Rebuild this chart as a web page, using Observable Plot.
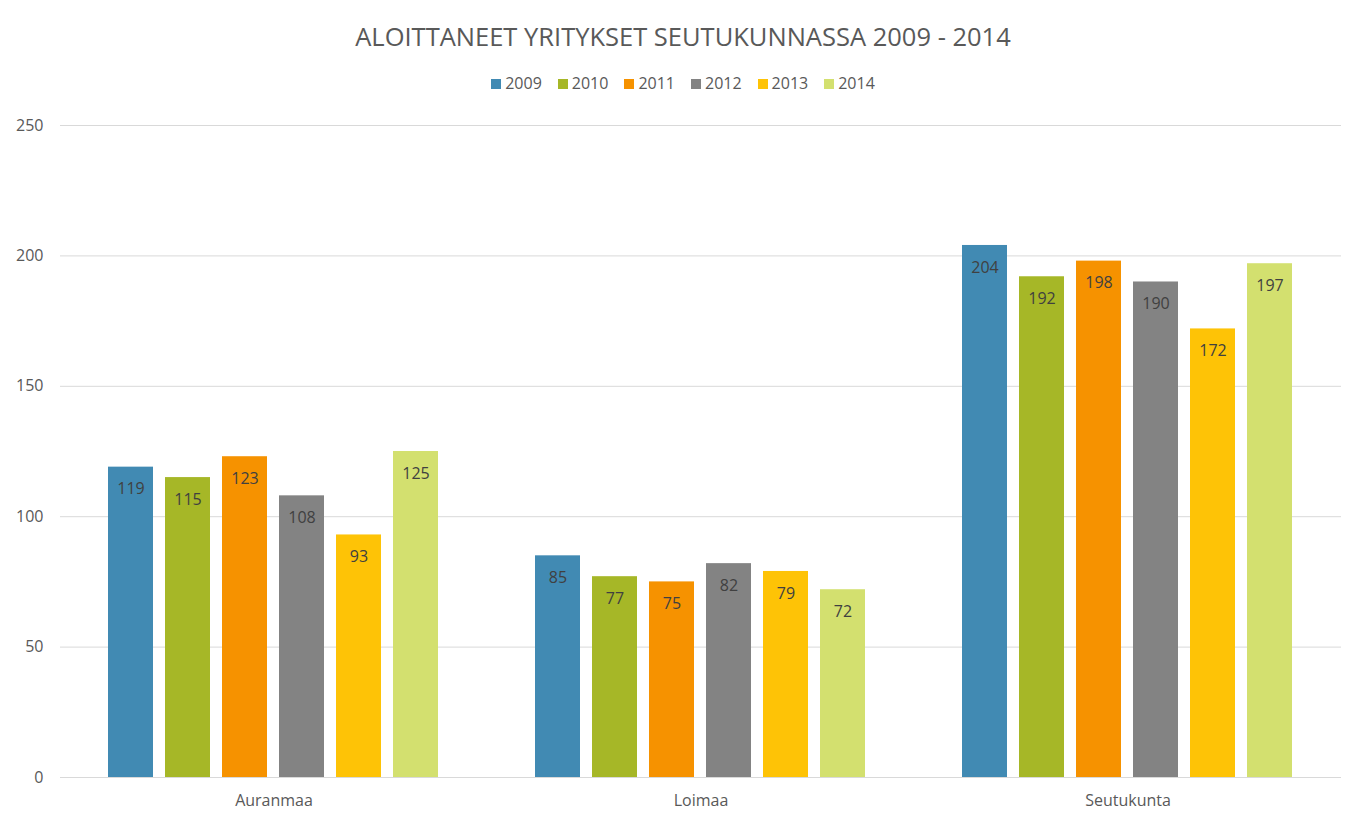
<!DOCTYPE html>
<html>
<head>
<meta charset="utf-8">
<script src="https://cdn.jsdelivr.net/npm/d3@7"></script>
<script src="https://cdn.jsdelivr.net/npm/@observablehq/plot@0.6"></script>
<style>
  html, body { margin: 0; padding: 0; background: #fff; }
  body { width: 1366px; height: 826px; position: relative; overflow: hidden; font-family: "Open Sans", sans-serif; }
  #title { position: absolute; top: 18px; left: 0; width: 1366px; text-align: center; font-size: 25.5px; color: #595959; line-height: 36px; }
  #legend { position: absolute; top: 72px; left: 0; width: 1366px; text-align: center; font-size: 16px; color: #595959; line-height: 22px; }
  #legend span.item { display: inline-block; margin: 0 8px; }
  #legend span.sw { display: inline-block; width: 10px; height: 10px; margin-right: 4px; vertical-align: 0px; }
  #chart { position: absolute; top: 100px; left: 0; }
</style>
</head>
<body>
<div id="title">ALOITTANEET YRITYKSET SEUTUKUNNASSA 2009 - 2014</div>
<div id="legend"></div>
<div id="chart"></div>
<script>
const regions = ["Auranmaa", "Loimaa", "Seutukunta"];
const years = ["2009", "2010", "2011", "2012", "2013", "2014"];
const colors = ["#418AB3", "#A6B727", "#F69200", "#838383", "#FEC306", "#D3E06F"];
const v2009 = [119, 85, 204];
const v2010 = [115, 77, 192];
const v2011 = [123, 75, 198];
const v2012 = [108, 82, 190];
const v2013 = [93, 79, 172];
const v2014 = [125, 72, 197];
const yTicks = [0, 50, 100, 150, 200, 250];

const series = [v2009, v2010, v2011, v2012, v2013, v2014];
const data = [];
regions.forEach((r, i) => years.forEach((y, j) => data.push({region: r, year: y, value: series[j][i]})));

const legend = document.getElementById("legend");
years.forEach((y, j) => {
  const s = document.createElement("span");
  s.className = "item";
  s.innerHTML = `<span class="sw" style="background:${colors[j]}"></span>${y}`;
  legend.appendChild(s);
});

const chart = Plot.plot({
  width: 1366,
  height: 726,
  marginTop: 25,
  marginBottom: 49,
  marginLeft: 60,
  marginRight: 25,
  style: { fontFamily: "Open Sans, sans-serif", fontSize: "16px", color: "#595959", background: "#fff" },
  fx: { domain: regions, padding: 0, label: null, axis: null },
  x: { domain: years, paddingInner: 0.21, paddingOuter: 0.85, axis: null },
  y: { domain: [0, 250], label: null },
  color: { domain: years, range: colors },
  marks: [
    Plot.ruleY(yTicks, { stroke: "#d9d9d9", strokeWidth: 1 }),
    Plot.axisY(yTicks, { tickSize: 0, tickPadding: 17, label: null, fontSize: 16, fill: "#595959" }),
    Plot.axisFx({ anchor: "bottom", tickSize: 0, tickPadding: 17, label: null, fontSize: 16, fill: "#595959" }),
    Plot.barY(data, { fx: "region", x: "year", y: "value", fill: "year" }),
    Plot.text(data, { fx: "region", x: "year", y: "value", text: d => String(d.value), dy: 22, fill: "#404040", fontSize: 16 })
  ]
});
document.getElementById("chart").appendChild(chart);
</script>
</body>
</html>
